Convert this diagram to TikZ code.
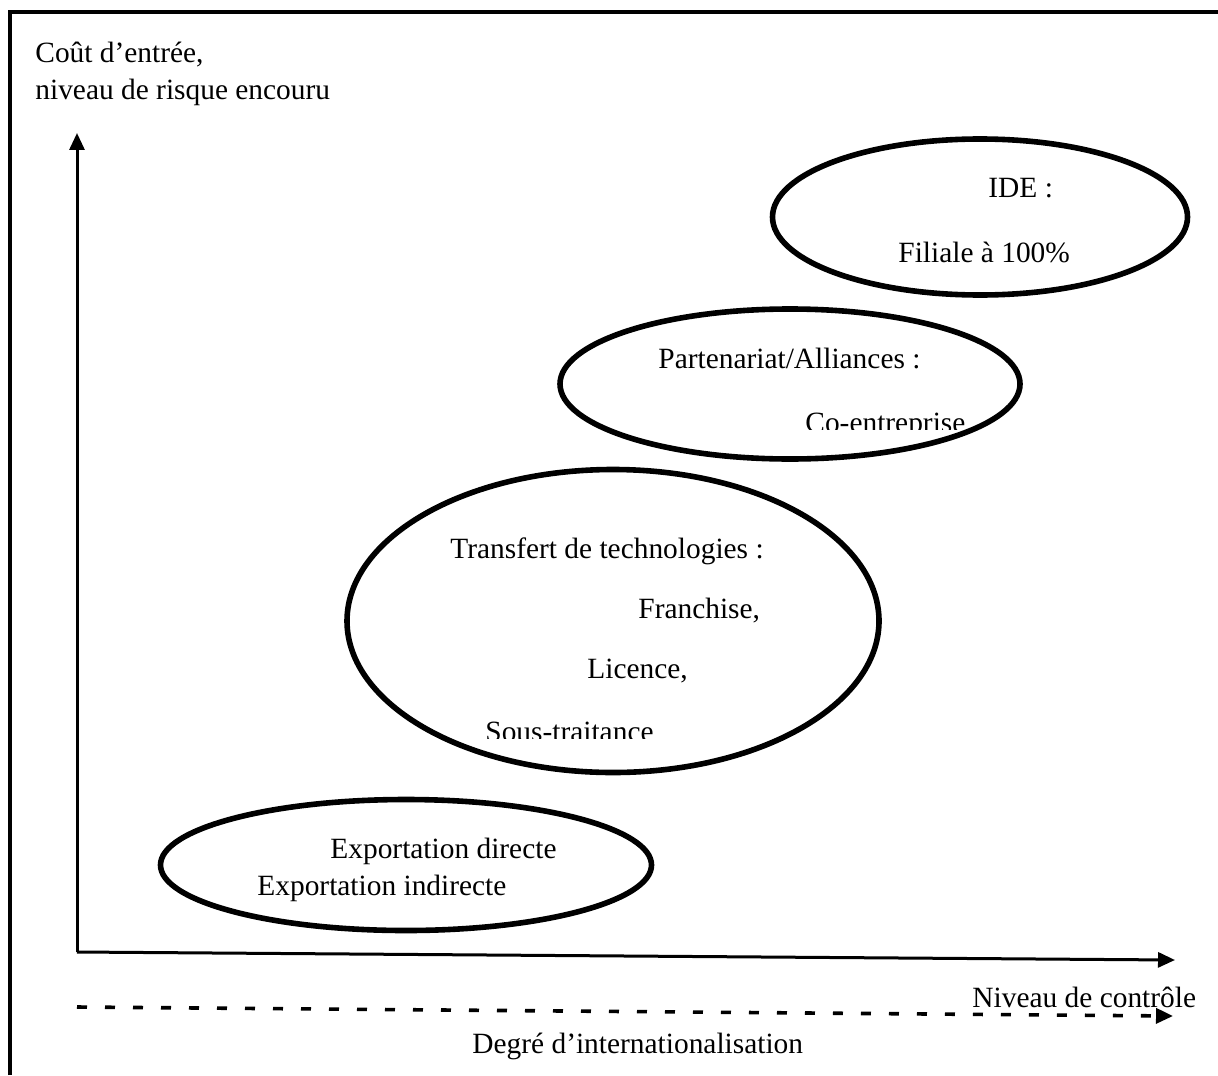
\documentclass[tikz,border=0pt]{standalone}
\usepackage{fontspec}
\setmainfont{Liberation Serif}
\usetikzlibrary{shapes.geometric,arrows.meta}
\begin{document}
\begin{tikzpicture}[x=0.5pt,y=-0.5pt,
  bubble/.style={ellipse,draw,line width=2.8pt,inner sep=0pt,outer sep=0pt},
  lbl/.style={anchor=base west,inner sep=0pt,font=\fontsize{14.7}{17}\selectfont},
  axisline/.style={line width=1.5pt,-{Triangle[length=8.5pt,width=7.5pt]}},
  dashline/.style={line width=1.8pt,dash pattern=on 5pt off 9pt,-{Triangle[length=8.5pt,width=7.5pt]}},
]
\useasboundingbox (0,0) rectangle (1218,1075);

% open frame: top and left edges only
\coordinate (fTL) at (10,12);
\coordinate (fTR) at (1218,12);
\coordinate (fBL) at (10,1075);
\draw[line width=1.65pt] (fBL) -- (fTL) -- (fTR);

% axes
\coordinate (O) at (77,952);
\coordinate (Ytop) at (77,133);
\coordinate (Xend) at (1175,960);
\draw[axisline] (O) -- (Ytop);
\draw[axisline] (O) -- (Xend);

% internationalisation scale
\coordinate (Dstart) at (77,1007);
\coordinate (Dend) at (1173,1016);
\draw[dashline] (Dstart) -- (Dend);

% entry modes
\node[bubble,minimum width=207.5pt,minimum height=78pt] (ide) at (980,217) {};
\node[bubble,minimum width=230pt,minimum height=75pt] (part) at (790,384) {};
\node[bubble,minimum width=266pt,minimum height=151.5pt] (tech) at (613,621) {};
\node[bubble,minimum width=245.5pt,minimum height=65.5pt] (exp) at (406,865) {};

% axis captions
\node[lbl] (ycap1) at (35,63) {Coût d’entrée,};
\node[lbl] (ycap2) at (35,100) {niveau de risque encouru};
\node[lbl] (xcap) at (972,1007) {Niveau de contrôle};
\node[lbl] (dcap) at (472,1053) {Degré d’internationalisation};

% bubble texts
\node[lbl] (ide1) at (988,198) {IDE :};
\node[lbl] (ide2) at (898,262) {Filiale à 100\%};
\node[lbl] (part1) at (658,368) {Partenariat/Alliances :};
\begin{scope}
  \clip (0,0) rectangle (1218,429);
  \node[lbl] (part2) at (805,432) {Co-entreprise};
\end{scope}
\node[lbl] (tech1) at (450,558) {Transfert de technologies :};
\node[lbl] (tech2) at (638,618) {Franchise,};
\node[lbl] (tech3) at (587,678) {Licence,};
\begin{scope}
  \clip (0,0) rectangle (1218,738);
  \node[lbl] (tech4) at (485,741) {Sous-traitance};
\end{scope}
\node[lbl] (exp1) at (330,858) {Exportation directe};
\node[lbl] (exp2) at (257,895) {Exportation indirecte};
\end{tikzpicture}
\end{document}
